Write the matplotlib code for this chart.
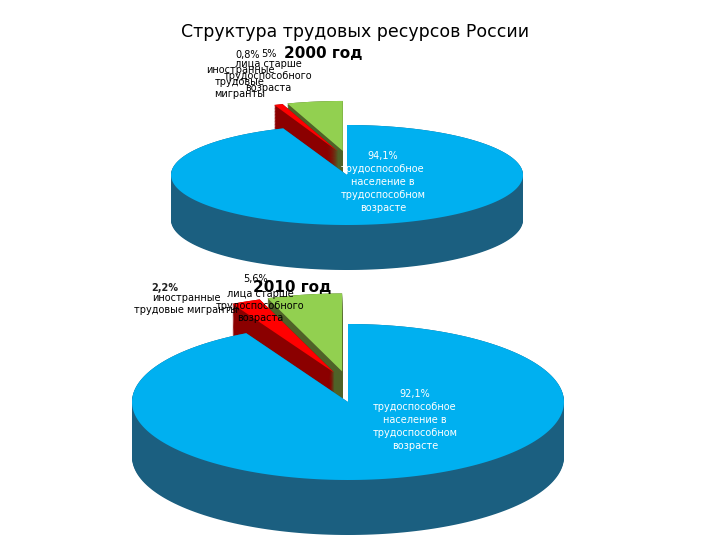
import numpy as np
import matplotlib
matplotlib.use("Agg")
import matplotlib.pyplot as plt
from matplotlib.patches import Polygon

title = "Структура трудовых ресурсов России"
categories = ["трудоспособное население в трудоспособном возрасте",
              "иностранные трудовые мигранты",
              "лица старше трудоспособного возраста"]
values_2000 = [94.1, 0.8, 5.1]
values_2010 = [92.1, 2.2, 5.6]
pct_2000 = ["94,1%", "0,8%", "5%"]
pct_2010 = ["92,1%", "2,2%", "5,6%"]

top_cols = ["#00B0F0", "#FF0000", "#92D050"]
side_cols = ["#1B5F80", "#8B0000", "#4F6228"]

fig = plt.figure(figsize=(7.2, 5.4), dpi=100)
ax = fig.add_axes([0, 0, 1, 1])
ax.set_xlim(0, 720); ax.set_ylim(540, 0); ax.axis("off")

def pie3d(values, cx, cy, rx, ry, depth, explode):
    tot = sum(values)
    spans = []
    start = 90.0
    for i in [2, 1, 0]:
        ang = values[i] / tot * 360
        spans.append((i, start, start + ang))
        start += ang
    for i, s, e in spans:
        mid = np.radians((s + e) / 2)
        ex = explode if i != 0 else 0
        ox = cx + ex * np.cos(mid) * 1.2
        oy = cy - ex * 0.6 * np.sin(mid) - (ex * 0.5 if i != 0 else 0)
        t = np.radians(np.linspace(s, e, 200))
        xs = np.concatenate([[ox], ox + rx * np.cos(t)])
        ys = np.concatenate([[oy], oy - ry * np.sin(t)])
        for d in np.linspace(depth, 0, 60):
            ax.add_patch(Polygon(np.c_[xs, ys + d], closed=True, fc=side_cols[i], ec="none"))
        ax.add_patch(Polygon(np.c_[xs, ys], closed=True, fc=top_cols[i], ec="none"))

pie3d(values_2000, 347, 175, 176, 50, 45, 22)
pie3d(values_2010, 348, 402, 216, 78, 55, 28)

ax.text(355, 32, title, ha="center", va="center", fontsize=12.5, family="DejaVu Sans")
ax.text(323, 53, "2000 год", ha="center", va="center", fontsize=11, fontweight="bold", family="DejaVu Sans")
ax.text(292, 287, "2010 год", ha="center", va="center", fontsize=11, fontweight="bold", family="DejaVu Sans")

fs = 7
ax.text(248, 55, pct_2000[1], ha="center", va="center", fontsize=fs)
ax.text(269, 54, pct_2000[2], ha="center", va="center", fontsize=fs)
ax.text(240, 82, "иностранные\nтрудовые\nмигранты", ha="center", va="center", fontsize=fs, linespacing=1.3)
ax.text(268, 76, "лица старше\nтрудоспособного\nвозраста", ha="center", va="center", fontsize=fs, linespacing=1.3)
ax.text(383, 182, pct_2000[0] + "\nтрудоспособное\nнаселение в\nтрудоспособном\nвозрасте",
        ha="center", va="center", fontsize=fs, color="white", linespacing=1.4)

ax.text(165, 288, pct_2010[1], ha="center", va="center", fontsize=fs, color="#222", fontweight="bold")
ax.text(186, 304, "иностранные\nтрудовые мигранты", ha="center", va="center", fontsize=fs, linespacing=1.3)
ax.text(256, 279, pct_2010[2], ha="center", va="center", fontsize=fs)
ax.text(260, 306, "лица старше\nтрудоспособного\nвозраста", ha="center", va="center", fontsize=fs, linespacing=1.3)
ax.text(415, 420, pct_2010[0] + "\nтрудоспособное\nнаселение в\nтрудоспособном\nвозрасте",
        ha="center", va="center", fontsize=fs, color="white", linespacing=1.4)

fig.savefig("out.png", dpi=100, facecolor="white")
